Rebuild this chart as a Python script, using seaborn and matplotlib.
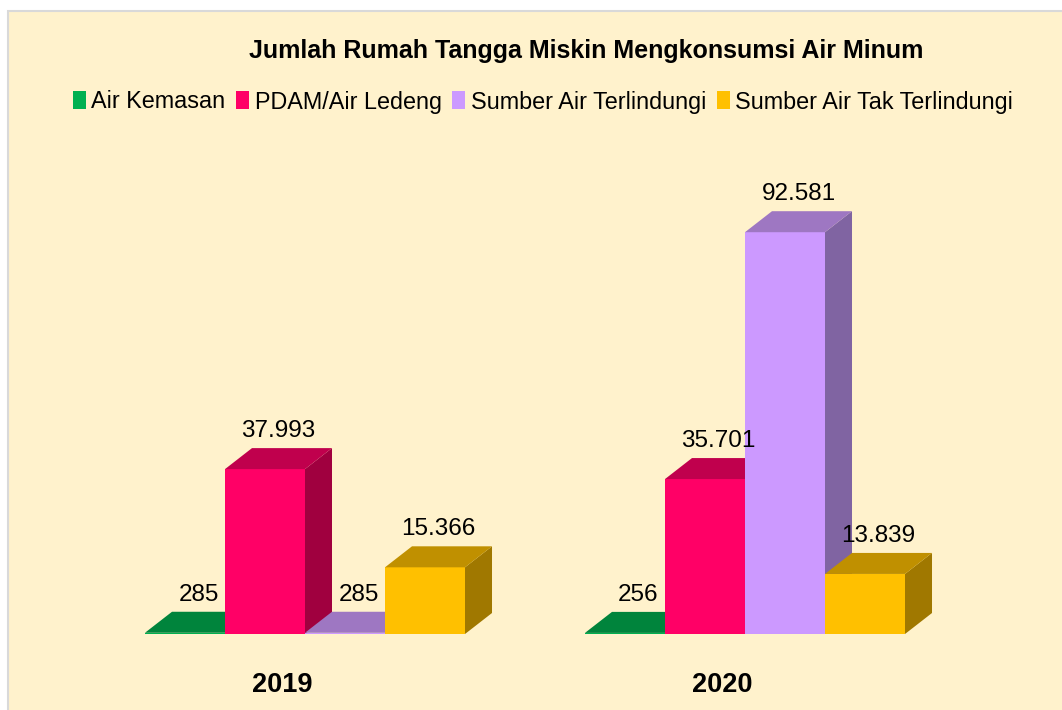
import pandas as pd
import matplotlib
matplotlib.use("Agg")
import matplotlib.pyplot as plt
import matplotlib.transforms as mtransforms
from matplotlib.patches import Rectangle, Polygon
from matplotlib.colors import to_hex
import seaborn as sns

# data
tahun = ["2019", "2020"]
sumber = ["Air Kemasan", "PDAM/Air Ledeng", "Sumber Air Terlindungi", "Sumber Air Tak Terlindungi"]
nilai_2019 = [285, 37993, 285, 15366]
nilai_2020 = [256, 35701, 92581, 13839]

# colors: front / top / side
warna_depan = ["#00B050", "#FF0066", "#CC99FF", "#FFC000"]
warna_atas = ["#00843C", "#C0004D", "#9E77C2", "#C09000"]
warna_sisi = ["#006B30", "#A0003F", "#8064A2", "#A07800"]

df = pd.DataFrame({
    "Tahun": [t for t in tahun for _ in sumber],
    "Sumber": sumber * 2,
    "Jumlah": nilai_2019 + nilai_2020,
})

sns.set_theme(style="white")
plt.rcParams['font.family'] = ['Liberation Sans', 'DejaVu Sans']
plt.rcParams['text.color'] = 'black'
plt.rcParams['xtick.color'] = 'black'

W, H = 1062, 710
fig = plt.figure(figsize=(W / 100, H / 100), dpi=100)
fig.patch.set_facecolor("white")
# chart area background
fig.patches.append(Rectangle((8 / W, -0.01), 1.1, 1 - 11 / H + 0.01, transform=fig.transFigure,
                             facecolor="#FFF2CC", edgecolor="#D9D9D9", lw=1.5, zorder=-1))

base_px = 634          # baseline from top
px_per_unit = 0.00434  # vertical scale
ax = fig.add_axes([0, (H - base_px) / H, 1, base_px / H])
ax.patch.set_visible(False)

sns.barplot(data=df, x="Tahun", y="Jumlah", hue="Sumber", hue_order=sumber,
            palette=warna_depan, width=0.7273, gap=0, saturation=1,
            linewidth=0, edgecolor="none", ax=ax)

ax.set_xlim(-305 / 440, (W - 305) / 440)
ax.set_ylim(0, base_px / px_per_unit)
dx = 27 / 440
dy = 21 / px_per_unit

hex_depan = [to_hex(c) for c in warna_depan]
for bar in list(ax.patches):
    h = bar.get_height()
    fc = to_hex(bar.get_facecolor())
    if not (h > 0) or fc not in hex_depan:
        continue
    j = hex_depan.index(fc)
    x0, w = bar.get_x(), bar.get_width()
    z = 2 + j
    bar.set_zorder(z)
    top = Polygon([(x0, h), (x0 + w, h), (x0 + w + dx, h + dy), (x0 + dx, h + dy)],
                  closed=True, facecolor=warna_atas[j], edgecolor="none", zorder=z)
    side = Polygon([(x0 + w, 0), (x0 + w + dx, dy), (x0 + w + dx, h + dy), (x0 + w, h)],
                   closed=True, facecolor=warna_sisi[j], edgecolor="none", zorder=z)
    ax.add_patch(side)
    ax.add_patch(top)
    label = f"{int(round(h)):,}".replace(",", ".")
    ax.annotate(label, (x0 + w / 2 + dx / 2, h + dy), xytext=(0, 4.5),
                textcoords="offset points", ha="center", va="bottom",
                fontsize=17.5, color="black", zorder=10)

# legend
handles, labels = ax.get_legend_handles_labels()
ax.get_legend().remove()
fig.legend(handles, labels, ncol=4, loc="center", bbox_to_anchor=(543 / W, 1 - 102 / H),
           frameon=False, fontsize=16.8, handlelength=0.55, handleheight=0.8,
           handletextpad=0.25, columnspacing=0.45, borderaxespad=0, labelcolor="black")

fig.text(586 / W, 1 - 51 / H, "Jumlah Rumah Tangga Miskin Mengkonsumsi Air Minum",
         ha="center", va="center", fontsize=18, fontweight="bold", color="black")

# axes cosmetics
for s in ax.spines.values():
    s.set_visible(False)
ax.set_yticks([])
ax.set_xlabel("")
ax.set_ylabel("")
ax.tick_params(axis="x", length=0, pad=27, labelsize=19.5, labelcolor="black")
shift = mtransforms.ScaledTranslation(-0.225, 0, fig.dpi_scale_trans)
for t in ax.get_xticklabels():
    t.set_fontweight("bold")
    t.set_transform(t.get_transform() + shift)

fig.savefig("out.png", dpi=100)
